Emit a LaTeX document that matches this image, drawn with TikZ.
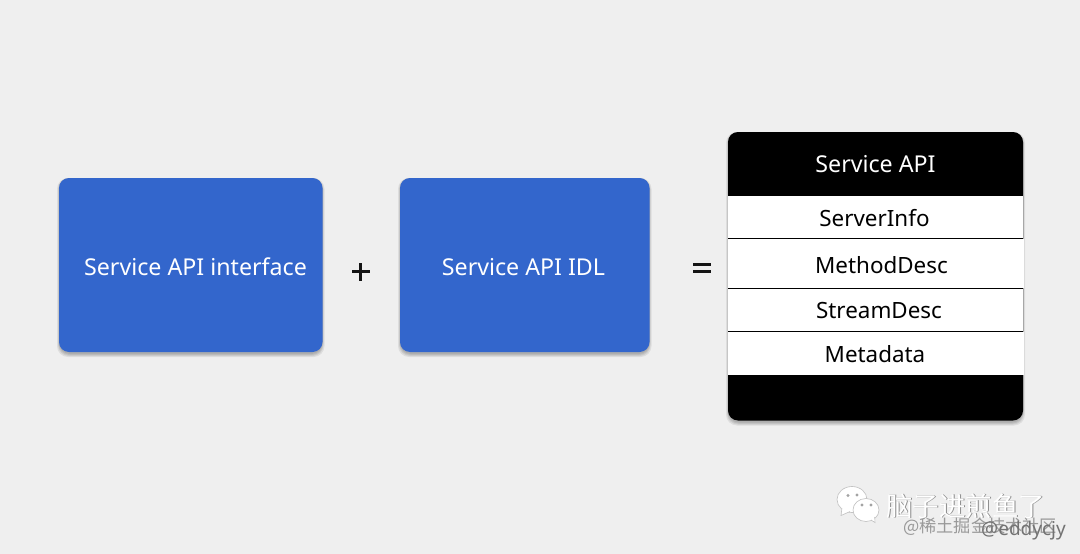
\documentclass[tikz,border=0pt]{standalone}
\usepackage{fontspec}
\setmainfont{Noto Sans}
\newfontfamily\cjk{Noto Sans CJK SC}
\definecolor{pagebg}{HTML}{EFEFEF}
\definecolor{apiblue}{HTML}{3366CC}
\definecolor{wmgray}{HTML}{8C8C8C}
\tikzset{
  lbl/.style={font=\fontsize{23.2}{26}\selectfont,inner sep=0pt,anchor=center},
  rowlbl/.style={font=\fontsize{22.4}{26}\selectfont,inner sep=0pt,anchor=center,text=black},
  symline/.style={line width=3pt,draw=black!92},
  shadowlayer/.style={fill=black,fill opacity=0.075,draw=none,rounded corners=11pt},
  sepline/.style={line width=1.2pt,draw=black},
  wm/.style={inner sep=0pt,anchor=west,text=white},
  wmshadow/.style={inner sep=0pt,anchor=west,text=wmgray},
  bubble/.style={fill=white,draw=black!25,line width=0.6pt},
}
\newcommand{\softshadow}[4]{%
  \fill[shadowlayer] (#1-2,#2) rectangle (#3+2,#4+5);
  \fill[shadowlayer] (#1-1,#2) rectangle (#3+1,#4+4);
  \fill[shadowlayer] (#1-.5,#2) rectangle (#3+.5,#4+3);
  \fill[shadowlayer] (#1,#2) rectangle (#3,#4+2);
}
\begin{document}
\begin{tikzpicture}[x=1pt,y=-1pt]
\useasboundingbox (0,0) rectangle (1080,554);
\fill[pagebg] (0,0) rectangle (1080,554);

% blue boxes
\softshadow{59}{178}{322.5}{352}
\softshadow{400}{178}{649.5}{352}
\fill[apiblue,rounded corners=10pt] (59,178) rectangle (322.5,352);
\fill[apiblue,rounded corners=10pt] (400,178) rectangle (649.5,352);
\node[lbl,text=white] (iface) at (195.5,267) {Service API interface};
\node[lbl,text=white] (idl) at (523.5,267) {Service API IDL};

% plus and equals signs
\draw[symline] (352,271.7) -- (370,271.7);
\draw[symline] (360.8,263) -- (360.8,280.5);
\draw[symline] (693,264) -- (710.5,264);
\draw[symline] (693,271) -- (710.5,271);

% stacked card
\softshadow{728}{132}{1023}{420.5}
\fill[black,rounded corners=10pt] (728,132) rectangle (1023,420.5);
\fill[white] (728,196) rectangle (1023,239);
\fill[white] (728,239) rectangle (1024,288);
\fill[white] (728,288) rectangle (1023,332);
\fill[white] (728,332) rectangle (1023.5,374.5);
\draw[sepline] (728,238.8) -- (1023,238.8);
\draw[sepline] (728,288.2) -- (1023,288.2);
\draw[sepline] (728,331.5) -- (1023,331.5);
\node[lbl,text=white] (title) at (875.5,164) {Service API};
\node[rowlbl] (info) at (874.5,218) {ServerInfo};
\node[rowlbl] (method) at (881.5,265.5) {MethodDesc};
\node[rowlbl] (stream) at (879,310.5) {StreamDesc};
\node[rowlbl] (meta) at (875,354) {Metadata};

% watermark icon
\draw[bubble] (852,499.5) ellipse (15 and 13);
\draw[bubble] (842,508) -- (841,515.5) -- (850,511.5);
\fill[white] (843,505) -- (842.2,513.5) -- (852,510) -- cycle;
\draw[bubble] (866,510) ellipse (13 and 11.5);
\draw[bubble] (871,520) -- (875,522.5) -- (874.5,517);
\fill[white] (870,518) -- (874.4,521.4) -- (874,515) -- cycle;
\fill[wmgray!80] (848,495.5) circle (1.6) (857,495) circle (1.6) (862,505) circle (1.6) (871,505) circle (1.6);

% watermark text
\node[wmshadow,font=\cjk\fontsize{26.5}{30}\selectfont] (wmas) at (886.8,506.7) {脑子进煎鱼了};
\node[wm,font=\cjk\fontsize{26.5}{30}\selectfont] (wma) at (886,506) {脑子进煎鱼了};
\node[wmshadow,font=\cjk\fontsize{17.2}{20}\selectfont,text=black!40] (wmb) at (903,527) {@稀土掘金技术社区};
\node[wmshadow,font=\fontsize{19}{20}\selectfont,text=black!55] (wmc) at (981,531) {@eddycjy};
\end{tikzpicture}
\end{document}
